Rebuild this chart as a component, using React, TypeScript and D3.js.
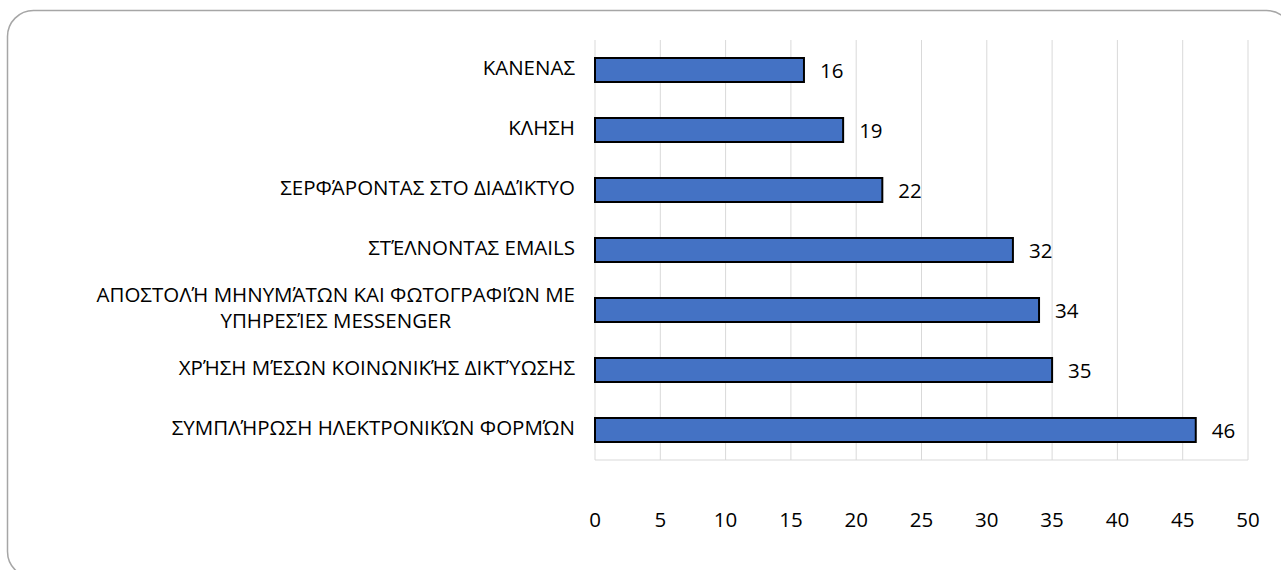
import React, { useEffect, useRef } from "react";
import * as d3 from "d3";

const categories: string[][] = [
  ["ΚΑΝΕΝΑΣ"],
  ["ΚΛΗΣΗ"],
  ["ΣΕΡΦΆΡΟΝΤΑΣ ΣΤΟ ΔΙΑΔΊΚΤΥΟ"],
  ["ΣΤΈΛΝΟΝΤΑΣ EMAILS"],
  ["ΑΠΟΣΤΟΛΉ ΜΗΝΥΜΆΤΩΝ ΚΑΙ ΦΩΤΟΓΡΑΦΙΏΝ ΜΕ", "ΥΠΗΡΕΣΊΕΣ MESSENGER"],
  ["ΧΡΉΣΗ ΜΈΣΩΝ ΚΟΙΝΩΝΙΚΉΣ ΔΙΚΤΎΩΣΗΣ"],
  ["ΣΥΜΠΛΉΡΩΣΗ ΗΛΕΚΤΡΟΝΙΚΏΝ ΦΟΡΜΏΝ"],
];
const values: number[] = [16, 19, 22, 32, 34, 35, 46];
const xTicks: number[] = [0, 5, 10, 15, 20, 25, 30, 35, 40, 45, 50];

const W = 1281;
const H = 570;
const FONT = "'Open Sans', sans-serif";
const TEXT = "#000";
const WEIGHT = 500;

export default function App() {
  const ref = useRef<SVGSVGElement>(null);

  useEffect(() => {
    const svg = d3.select(ref.current);
    svg.selectAll("*").remove();

    svg
      .append("rect")
      .attr("x", 7.5)
      .attr("y", 10.5)
      .attr("width", 1285)
      .attr("height", 567)
      .attr("rx", 26)
      .attr("fill", "#fff")
      .attr("stroke", "#a6a6a6")
      .attr("stroke-width", 1.5);

    const x = d3.scaleLinear().domain([0, 50]).range([595, 1248]);
    const y = d3
      .scaleBand<number>()
      .domain(d3.range(categories.length))
      .range([40, 460])
      .paddingInner(0.6)
      .paddingOuter(0.3);

    // gridlines
    svg
      .append("g")
      .selectAll("line")
      .data(xTicks)
      .join("line")
      .attr("x1", (d) => x(d))
      .attr("x2", (d) => x(d))
      .attr("y1", 40)
      .attr("y2", 460)
      .attr("stroke", "#d9d9d9")
      .attr("stroke-width", 1);

    // bottom axis line
    svg
      .append("line")
      .attr("x1", x(0))
      .attr("x2", x(50))
      .attr("y1", 460)
      .attr("y2", 460)
      .attr("stroke", "#d9d9d9");

    // bars
    svg
      .append("g")
      .selectAll("rect")
      .data(values)
      .join("rect")
      .attr("x", x(0))
      .attr("y", (_, i) => y(i)!)
      .attr("width", (d) => x(d) - x(0))
      .attr("height", y.bandwidth())
      .attr("fill", "#4472c4")
      .attr("stroke", "#000")
      .attr("stroke-width", 2);

    // value labels
    svg
      .append("g")
      .selectAll("text")
      .data(values)
      .join("text")
      .attr("x", (d) => x(d) + 16)
      .attr("y", (_, i) => y(i)! + y.bandwidth() / 2 + 3)
      .attr("dominant-baseline", "middle")
      .attr("font-family", FONT)
      .attr("font-weight", WEIGHT)
      .attr("font-size", 20.5)
      .attr("fill", TEXT)
      .text((d) => String(d));

    // tick labels
    svg
      .append("g")
      .selectAll("text")
      .data(xTicks)
      .join("text")
      .attr("x", (d) => x(d))
      .attr("y", 522)
      .attr("text-anchor", "middle")
      .attr("dominant-baseline", "middle")
      .attr("font-family", FONT)
      .attr("font-weight", WEIGHT)
      .attr("font-size", 20.5)
      .attr("fill", TEXT)
      .text((d) => String(d));

    // category labels
    const right = 575;
    const lineH = 26;
    categories.forEach((lines, i) => {
      const cy = y(i)! + y.bandwidth() / 2;
      const g = svg.append("g");
      const texts = lines.map((ln, j) =>
        g
          .append("text")
          .attr("y", cy + (j - (lines.length - 1) / 2) * lineH)
          .attr("dominant-baseline", "middle")
          .attr("font-family", FONT)
          .attr("font-weight", WEIGHT)
          .attr("font-size", 20.5)
          .attr("fill", TEXT)
          .text(ln)
      );
      if (lines.length === 1) {
        texts[0].attr("x", right).attr("text-anchor", "end");
      } else {
        const widths = texts.map((t) => (t.node() as SVGTextElement).getComputedTextLength());
        const maxW = Math.max(...widths);
        texts.forEach((t) => t.attr("x", right - maxW / 2).attr("text-anchor", "middle"));
      }
    });
  }, []);

  return (
    <svg
      ref={ref}
      width={W}
      height={H}
      style={{ position: "absolute", left: 0, top: 0, display: "block" }}
    />
  );
}
